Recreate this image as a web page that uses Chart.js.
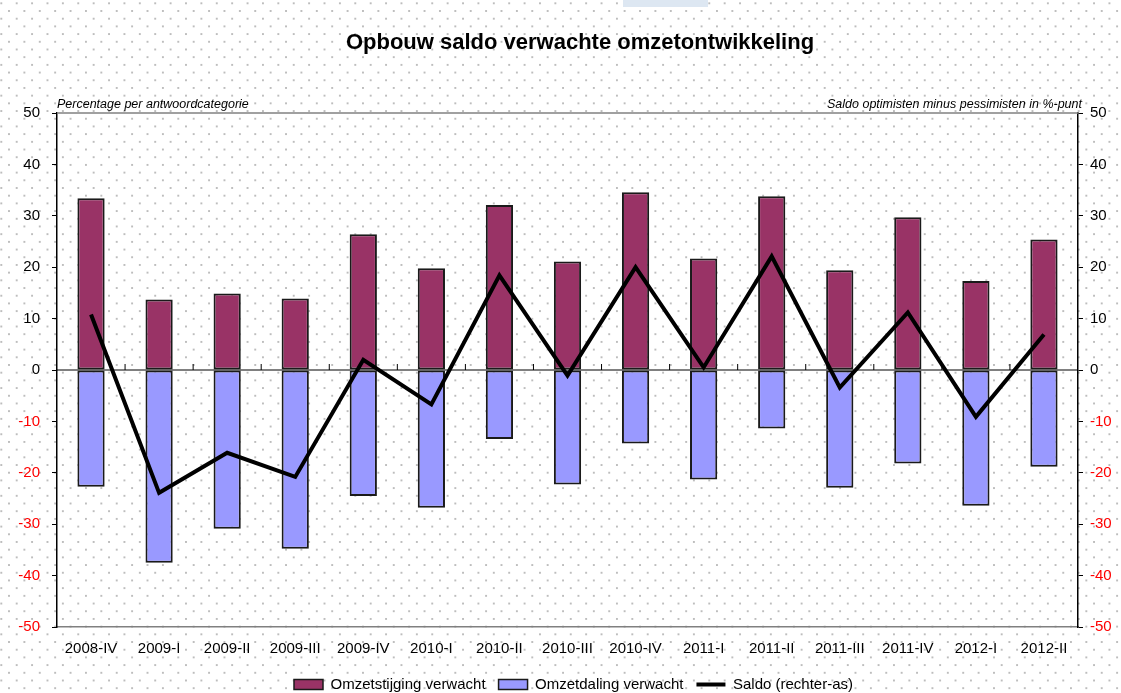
<!DOCTYPE html>
<html lang="nl">
<head>
<meta charset="utf-8">
<title>Opbouw saldo verwachte omzetontwikkeling</title>
<script src="https://cdn.jsdelivr.net/npm/chart.js@4/dist/chart.umd.min.js"></script>
<style>
    html, body { margin: 0; padding: 0; }
    body {
        width: 1121px;
        height: 693px;
        overflow: hidden;
        position: relative;
        background-color: #fff;
        background-image:
            radial-gradient(circle, #bdbdbd 0.9px, transparent 1.4px),
            radial-gradient(circle, #bdbdbd 0.9px, transparent 1.4px);
        background-size: 15.4px 15.4px;
        background-position: 1.3px 3.3px, 9px 11px;
    }
    #topMark { position: absolute; left: 623px; top: 0; width: 85px; height: 7px; background: #dde7f2; }
    #chartBox { position: absolute; left: 0; top: 0; width: 1121px; height: 693px; }
</style>
</head>
<body>
<div id="topMark"></div>
<div id="chartBox"><canvas id="saldoChart" width="1121" height="693"></canvas></div>
<script>
const categories = ['2008-IV', '2009-I', '2009-II', '2009-III', '2009-IV', '2010-I', '2010-II', '2010-III',
    '2010-IV', '2011-I', '2011-II', '2011-III', '2011-IV', '2012-I', '2012-II'];
const stijging = [33.4, 13.7, 14.9, 13.9, 26.4, 19.8, 32.1, 21.1, 34.6, 21.7, 33.8, 19.4, 29.7, 17.3, 25.4];
const daling = [-22.7, -37.5, -30.9, -34.8, -24.5, -26.8, -13.4, -22.3, -14.3, -21.3, -11.4, -22.9, -18.2, -26.4, -18.8];
const saldo = [10.8, -23.9, -16.1, -20.8, 2.0, -6.7, 18.4, -1.1, 20.0, 0.5, 22.1, -3.4, 11.2, -9.1, 6.9];
const axisRange = [-50, 50, 10]; // min, max, stap

const TEXT = {
    TITLE: 'Opbouw saldo verwachte omzetontwikkeling',
    LEFT_AXIS: 'Percentage per antwoordcategorie',
    RIGHT_AXIS: 'Saldo optimisten minus pessimisten in %-punt',
    SERIES_UP: 'Omzetstijging verwacht',
    SERIES_DOWN: 'Omzetdaling verwacht',
    SERIES_SALDO: 'Saldo (rechter-as)',
};

const FONT = '"Liberation Sans", Arial, sans-serif';

function tickColor(ctx) {
    return ctx.tick && ctx.tick.value < 0 ? '#ff0000' : '#000000';
}

function yAxis(position, width, padding) {
    return {
        position: position,
        min: axisRange[0],
        max: axisRange[1],
        stacked: position === 'left',
        afterFit: scale => { scale.width = width; },
        ticks: {
            stepSize: axisRange[2],
            color: tickColor,
            padding: padding,
            font: { family: FONT, size: 15 }
        },
        grid: { drawOnChartArea: false, drawTicks: true, tickLength: 5, color: '#000', lineWidth: 1 },
        border: { display: true, color: '#000', width: 1.5 }
    };
}

// titel, as-teksten, bovenrand en nullijn met streepjes
const decorPlugin = {
    id: 'decor',
    afterLayout(chart) {
        if (chart.legend) {
            chart.legend.left += 13;
            chart.legend.right += 13;
            chart.legend.top += 9;
            chart.legend.bottom += 9;
        }
    },
    afterDatasetsDraw(chart) {
        const { ctx, chartArea, scales } = chart;
        const y0 = scales.y.getPixelForValue(0);
        ctx.save();
        ctx.strokeStyle = '#000';
        ctx.lineWidth = 1;
        ctx.beginPath();
        ctx.moveTo(chartArea.left, y0);
        ctx.lineTo(chartArea.right, y0);
        for (let i = 0; i < categories.length - 1; i++) {
            const xb = (scales.x.getPixelForValue(i) + scales.x.getPixelForValue(i + 1)) / 2;
            ctx.moveTo(xb, y0);
            ctx.lineTo(xb, y0 - 6);
        }
        ctx.stroke();
        ctx.restore();
    },
    afterDraw(chart) {
        const { ctx, chartArea } = chart;
        ctx.save();
        ctx.strokeStyle = '#808080';
        ctx.lineWidth = 1.5;
        ctx.beginPath();
        ctx.moveTo(chartArea.left, chartArea.top);
        ctx.lineTo(chartArea.right, chartArea.top);
        ctx.stroke();

        ctx.fillStyle = '#000';
        ctx.textBaseline = 'alphabetic';
        ctx.font = 'bold 22px ' + FONT;
        ctx.textAlign = 'center';
        ctx.fillText(TEXT.TITLE, 580, 49);

        ctx.font = 'italic 12.5px ' + FONT;
        ctx.textAlign = 'left';
        ctx.fillText(TEXT.LEFT_AXIS, chartArea.left, chartArea.top - 5);
        ctx.textAlign = 'right';
        ctx.fillText(TEXT.RIGHT_AXIS, chartArea.right + 4, chartArea.top - 5);
        ctx.restore();
    }
};

function drawChart() {
    const ctx = document.getElementById('saldoChart').getContext('2d');
    return new Chart(ctx, {
        type: 'bar',
        data: {
            labels: categories,
            datasets: [
                {
                    label: TEXT.SERIES_UP,
                    data: stijging,
                    backgroundColor: '#993366',
                    borderColor: '#1a1a1a',
                    borderWidth: 2,
                    borderSkipped: false,
                    yAxisID: 'y',
                    order: 1
                },
                {
                    label: TEXT.SERIES_DOWN,
                    data: daling,
                    backgroundColor: '#9999ff',
                    borderColor: '#1a1a1a',
                    borderWidth: 2,
                    borderSkipped: false,
                    yAxisID: 'y',
                    order: 1
                },
                {
                    type: 'line',
                    label: TEXT.SERIES_SALDO,
                    data: saldo,
                    borderColor: '#000',
                    backgroundColor: '#000',
                    borderWidth: 4,
                    pointRadius: 0,
                    tension: 0,
                    fill: false,
                    yAxisID: 'y2',
                    pointStyle: 'line',
                    order: 0
                }
            ]
        },
        options: {
            responsive: false,
            animation: false,
            categoryPercentage: 1,
            barPercentage: 0.4,
            layout: { padding: { top: 113, left: 0, right: 0, bottom: 0 } },
            plugins: {
                title: { display: false },
                tooltip: { enabled: false },
                legend: {
                    display: true,
                    position: 'bottom',
                    labels: {
                        usePointStyle: true,
                        pointStyleWidth: 29,
                        boxHeight: 10,
                        padding: 13,
                        color: '#000',
                        font: { family: FONT, size: 15 },
                        sort: (a, b) => a.datasetIndex - b.datasetIndex,
                        generateLabels: chart => {
                            const items = Chart.defaults.plugins.legend.labels.generateLabels(chart);
                            items.forEach(it => {
                                const ds = chart.data.datasets[it.datasetIndex];
                                it.pointStyle = ds.type === 'line' ? 'line' : 'rect';
                                it.lineWidth = ds.type === 'line' ? 4 : 1.5;
                                it.strokeStyle = ds.type === 'line' ? '#000' : '#1a1a1a';
                            });
                            return items;
                        }
                    }
                }
            },
            scales: {
                x: {
                    stacked: true,
                    offset: true,
                    afterFit: scale => { scale.height = 28; },
                    ticks: { color: '#000', padding: 13, maxRotation: 0, autoSkip: false, font: { family: FONT, size: 15 } },
                    grid: { display: false, drawTicks: false },
                    border: { display: true, color: '#808080', width: 1.5 }
                },
                y: yAxis('left', 57, 12),
                y2: yAxis('right', 43, 7)
            }
        },
        plugins: [decorPlugin]
    });
}

window.onload = function() {
    drawChart();
};
</script>
</body>
</html>
